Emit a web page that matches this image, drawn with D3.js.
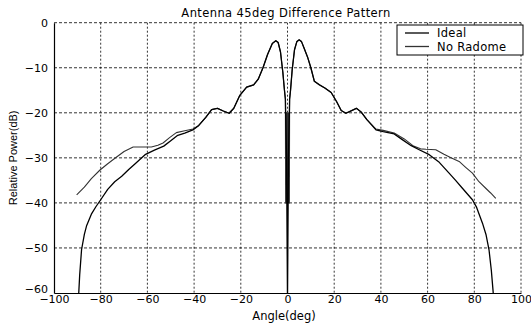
<!DOCTYPE html>
<html><head><meta charset="utf-8">
<script src="https://cdn.jsdelivr.net/npm/d3@7"></script>
<style>
html,body{margin:0;padding:0;background:#fff;}
text{font-family:"DejaVu Sans",Arial,sans-serif;fill:#000;}
</style></head>
<body><svg id="c" width="531" height="328"></svg>
<script>
const titleText = "Antenna 45deg Difference Pattern";
const xLabel = "Angle(deg)";
const yLabel = "Relative Power(dB)";
const xTicks = [-100,-80,-60,-40,-20,0,20,40,60,80,100];
const yTicks = [0,-10,-20,-30,-40,-50,-60];
const seriesNames = ["Ideal","No Radome"];

const idealAngles = [-89.4,-89,-88.2,-87,-86,-84,-82,-80,-77,-74,-71,-68,-65,-61,-57,-53,-50,-47,-44,-40.5,-38,-35,-32.5,-30,-27.5,-25,-23,-20.5,-17.5,-14.5,-12.5,-10.5,-8.5,-6.5,-5,-4,-3,-2,-1.3,-0.9,-0.4,0,0.4,0.9,1.3,2,3,4,5,6,7,8.7,10,11.5,13.7,16,18.7,21,23,25,27.5,29.5,31.5,34,37.9,41,45.7,49,53,56.4,60.7,65,69.2,72,75,79.2,81,83.5,85,86.3,87.3,88,88.4];
const idealDb = [-60,-56,-50.4,-47,-45,-42.5,-40.8,-39.3,-37,-35.3,-34.1,-32.6,-31.2,-29.3,-28.3,-27.4,-26.2,-25,-24.5,-23.8,-22.8,-21,-19.3,-19,-19.6,-20.1,-19,-16.2,-14.3,-13.8,-12.5,-10,-7,-4.6,-4,-4.4,-6.5,-11,-15,-17,-30,-62,-30,-17,-15,-10.5,-6,-4.2,-3.8,-4.2,-5.5,-7.8,-10,-13,-13.8,-14.5,-15.5,-17.5,-19.5,-20.1,-19.5,-19,-19.8,-21.5,-23.8,-24.2,-24.7,-25.9,-27.3,-28.2,-29.3,-31,-33.4,-35,-36.8,-39.3,-41,-44.5,-47,-50.4,-55,-59.3,-62];

const radomeAngles = [-90.3,-87,-84,-80.3,-77,-73.9,-70,-66.1,-62,-58.3,-55.5,-53.3,-50.5,-47.6,-44,-40.5,-38,-35,-32.5,-30,-27.5,-25,-23,-20.5,-17.5,-14.5,-12.5,-10.5,-8.5,-6.5,-5,-4,-3,-2,-1.3,-0.9,-0.8,-0.6,-0.4,-0.2,0,0.2,0.4,0.6,0.8,0.9,1.3,2,3,4,5,6,7,8.7,10,11.5,13.7,16,18.7,21,23,25,27.5,29.5,31.5,34,37.9,41,45.7,50,54,57,59.3,63.5,67,70,73.5,76.3,79.2,82,85,87,89.2];
const radomeDb = [-38.2,-36.5,-34.6,-32.7,-31.3,-30.1,-28.6,-27.6,-27.6,-27.6,-27.2,-26.7,-25.5,-24.4,-24,-23.6,-22.8,-21,-19.3,-19,-19.6,-20.1,-19,-16.2,-14.3,-13.8,-12.5,-10,-7,-4.6,-4,-4.4,-6.5,-11,-15,-17,-40,-20,-40,-20,-40,-20,-40,-20,-40,-17,-15,-10.5,-6,-4.2,-3.8,-4.2,-5.5,-7.8,-10,-13,-13.8,-14.5,-15.5,-17.5,-19.5,-20.1,-19.5,-19,-19.8,-21.5,-23.6,-23.9,-24.5,-25.8,-27.4,-28,-28.1,-28.2,-29.2,-30,-30.8,-32.1,-33.4,-35.3,-36.8,-37.8,-39];

const svg = d3.select("#c");
const L = 54, R = 521, T = 22.7, B = 293;
const x = d3.scaleLinear().domain([-100,100]).range([L,R]);
const y = d3.scaleLinear().domain([-60,0]).range([B,T]);

// grid
const g = svg.append("g");
g.selectAll(".vg").data(xTicks.filter(d=>d>-100)).enter().append("line")
  .attr("x1",d=>x(d)).attr("x2",d=>x(d)).attr("y1",T).attr("y2",B)
  .attr("stroke","#000").attr("stroke-width",0.8).attr("stroke-dasharray","2,2");
g.selectAll(".hg").data(yTicks.filter(d=>d>-60)).enter().append("line")
  .attr("x1",L).attr("x2",R).attr("y1",d=>y(d)).attr("y2",d=>y(d))
  .attr("stroke","#000").attr("stroke-width",0.8).attr("stroke-dasharray","3,2");

// clip
svg.append("clipPath").attr("id","clip").append("rect")
  .attr("x",L).attr("y",T).attr("width",R-L).attr("height",B-T);

const line = d3.line().x(d=>x(d[0])).y(d=>y(d[1]));
const radome = radomeAngles.map((a,i)=>[a,radomeDb[i]]);
const ideal = idealAngles.map((a,i)=>[a,idealDb[i]]);

const plot = svg.append("g").attr("clip-path","url(#clip)");
plot.append("path").datum(radome).attr("d",line).attr("fill","none")
  .attr("stroke","#333").attr("stroke-width",1.1).attr("stroke-linejoin","round");
plot.append("path").datum(ideal).attr("d",line).attr("fill","none")
  .attr("stroke","#000").attr("stroke-width",1.3).attr("stroke-linejoin","round");

// axes
const xAxis = d3.axisBottom(x).tickValues(xTicks).tickSize(0).tickPadding(2);
const yAxis = d3.axisLeft(y).tickValues(yTicks).tickSize(0).tickPadding(6);
const gx = svg.append("g").attr("transform",`translate(0,${B})`).call(xAxis);
const gy = svg.append("g").attr("transform",`translate(${L},0)`).call(yAxis);
[gx,gy].forEach(a=>{
  a.select(".domain").attr("stroke","#000").attr("stroke-width",1.2);
  a.selectAll("text").style("font-size","11px").style("font-family","'DejaVu Sans',sans-serif").attr("fill","#000");
});
gx.selectAll(".tick text").attr("dy","0.75em");
gy.selectAll(".tick text").attr("dy",d=>d===-60?"-0.05em":"0.35em");

// title and labels
svg.append("text").attr("x",286).attr("y",17).attr("text-anchor","middle")
  .style("font-size","11.5px").style("letter-spacing","0.4px").text(titleText);
svg.append("text").attr("x",284).attr("y",320).attr("text-anchor","middle")
  .style("font-size","11.5px").text(xLabel);
svg.append("text").attr("transform",`translate(17,${(T+B)/2}) rotate(-90)`)
  .attr("text-anchor","middle").style("font-family","'Liberation Sans',Arial,sans-serif")
  .style("font-size","11px").text(yLabel);

// legend
const lg = svg.append("g");
lg.append("rect").attr("x",397).attr("y",25).attr("width",126).attr("height",30)
  .attr("fill","#fff").attr("stroke","#000").attr("stroke-width",1);
const legColors = ["#000","#333"];
const legWidths = [1.3,1.3];
seriesNames.forEach((n,i)=>{
  const yy = 33 + i*13.5;
  lg.append("line").attr("x1",405).attr("x2",429).attr("y1",yy).attr("y2",yy)
    .attr("stroke",legColors[i]).attr("stroke-width",legWidths[i]);
  lg.append("text").attr("x",437).attr("y",yy+4).style("font-size","11.5px")
    .style("letter-spacing","0.3px").text(n);
});
</script></body></html>
